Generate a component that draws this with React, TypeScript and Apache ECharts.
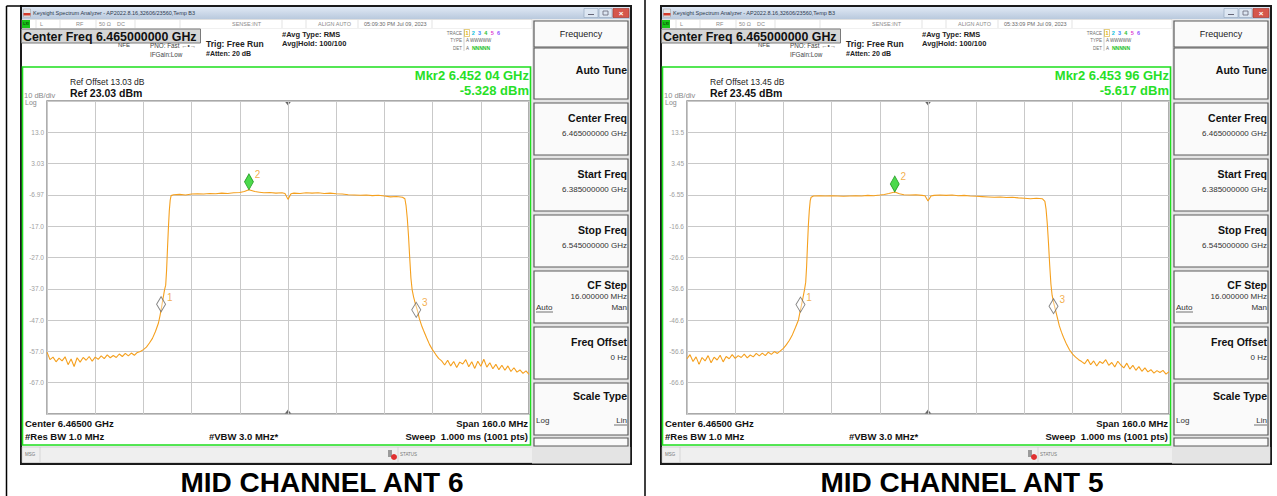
import React, { useEffect, useRef } from 'react';
import * as echarts from 'echarts';

const FONT = '"Liberation Sans", Arial, Helvetica, sans-serif';

// frequency offset from centre (MHz), centre = 6.465 GHz, span 160 MHz
const freqOffsetMHz = [
  -80, -79, -78, -77, -76, -75, -74, -73, -72, -71, -70, -69, -68, -67, -66, -65, -64, -63, -62, -61, -60, -59, -58, -57, -56, -55, -54, -53, -52, -51, -50, -49,
  -48, -47, -46, -45, -44, -43, -42.5, -42, -41.5, -41, -40.6, -40.3, -40, -39.7, -39.4, -39.1, -38.8,
  -38, -36, -34, -32, -30, -28, -26, -24, -22, -20, -18, -16, -14.5, -13, -11, -9.5, -8, -6, -4, -2, -1, 0, 1, 2, 4, 6, 8, 10, 12, 14, 16, 18, 20, 22, 24, 26, 28, 30, 32, 34, 36, 38,
  38.8, 39.2, 39.6, 40, 40.4, 40.8, 41.2, 41.7, 42.3, 43, 43.6, 44.3, 45, 46, 47, 48, 49, 50, 51,
  52, 53, 54, 55, 56, 57, 58, 59, 60, 61, 62, 63, 64, 65, 66, 67, 68, 69, 70, 71, 72, 73, 74, 75, 76, 77, 78, 79, 80,
];

// trace levels (dBm), ANT 6
const ant6Level = [
  -57.2, -59.6, -58.8, -60.3, -59.1, -60.0, -58.7, -61.2, -59.4, -61.8, -59.0, -60.4, -58.9, -59.8, -58.6, -60.1, -58.8, -59.5, -58.4, -59.3, -58.1, -59.0, -58.3, -58.9, -57.8, -58.6, -57.6, -58.4, -57.5, -58.2, -57.3, -57.0,
  -56.4, -55.6, -54.3, -52.8, -50.6, -47.9, -45.6, -43.0, -40.2, -37.4, -35.8, -31.0, -24.0, -17.5, -12.0, -8.6, -7.2,
  -6.9, -6.8, -7.0, -6.7, -6.6, -6.7, -6.5, -6.6, -6.4, -6.5, -6.3, -6.2, -5.9, -5.35, -5.9, -6.1, -6.3, -6.2, -6.4, -6.3, -6.5, -8.4, -6.6, -6.4, -6.5, -6.3, -6.4, -6.3, -6.5, -6.4, -6.6, -6.7, -6.9, -7.0, -7.1, -7.0, -7.2, -7.1, -7.3, -7.6, -7.5, -7.7,
  -8.2, -10.5, -14.5, -20.0, -27.0, -33.5, -37.2, -39.6, -41.8, -44.0, -46.5, -48.6, -50.3, -52.6, -54.8, -56.5, -57.9, -59.2, -60.0,
  -61.3, -59.8, -61.6, -60.2, -62.1, -60.4, -61.0, -59.6, -61.9, -60.3, -62.4, -60.1, -61.7, -59.5, -62.0, -60.6, -62.5, -61.1, -62.8, -61.4, -63.0, -61.6, -63.4, -62.2, -63.6, -62.9, -64.0, -63.2, -64.3,
];

// trace levels (dBm), ANT 5
const ant5Level = [
  -58.9, -57.6, -59.8, -58.3, -60.7, -58.5, -59.6, -57.9, -60.2, -58.4, -59.3, -57.8, -59.9, -58.2, -58.9, -57.6, -58.8, -57.9, -58.5, -57.4, -58.6, -57.7, -58.3, -57.2, -58.0, -57.1, -57.9, -56.8, -57.5, -56.6, -57.2, -56.4,
  -55.6, -54.4, -53.0, -51.2, -48.9, -46.5, -44.0, -41.8, -39.4, -36.9, -34.5, -29.5, -22.5, -16.0, -11.5, -8.4, -7.3,
  -6.9, -6.8, -6.9, -6.8, -6.9, -7.0, -6.9, -6.8, -6.9, -6.7, -6.8, -6.6, -6.4, -6.1, -5.65, -6.2, -6.5, -6.6, -6.5, -6.7, -6.8, -8.5, -6.9, -6.7, -6.6, -6.7, -6.6, -6.8, -6.7, -6.9, -7.0, -7.1, -7.2, -7.3, -7.2, -7.4, -7.3, -7.5, -7.6, -7.8, -7.6, -7.8,
  -8.6, -11.2, -15.8, -22.0, -29.0, -35.0, -38.6, -41.0, -43.3, -46.0, -48.4, -50.4, -52.1, -54.3, -56.1, -57.4, -58.4, -59.2, -59.8,
  -60.5, -59.1, -60.8, -59.6, -61.2, -59.8, -60.4, -59.2, -61.0, -60.1, -61.5, -59.7, -60.9, -61.8, -60.3, -62.2, -61.0, -62.6, -61.4, -62.9, -61.8, -63.1, -62.4, -63.5, -62.7, -63.3, -62.6, -63.8, -63.0,
];

const ant6Ref = 23.03;
const ant5Ref = 23.45;
const ant6YTickLabels = ['13.0', '3.03', '-6.97', '-17.0', '-27.0', '-37.0', '-47.0', '-57.0', '-67.0'];
const ant5YTickLabels = ['13.5', '3.45', '-6.55', '-16.6', '-26.6', '-36.6', '-46.6', '-56.6', '-66.6'];

const markerIds = ['1', '2', '3'];
const ant6MarkerFreq = [-41.8, -12.96, 42.9];
const ant6MarkerLevel = [-41.9, -5.328, -43.7];
const ant5MarkerFreq = [-42.0, -11.04, 42.0];
const ant5MarkerLevel = [-41.6, -5.617, -42.1];

const captions = ['MID CHANNEL ANT 6', 'MID CHANNEL ANT 5'];
const timeStamps = ['05:09:30 PM Jul 09, 2023', '05:33:09 PM Jul 09, 2023'];
const refOffsetTexts = ['Ref Offset 13.03 dB', 'Ref Offset 13.45 dB'];
const refTexts = ['Ref 23.03 dBm', 'Ref 23.45 dBm'];
const mkrFreqTexts = ['Mkr2 6.452 04 GHz', 'Mkr2 6.453 96 GHz'];
const mkrLevelTexts = ['-5.328 dBm', '-5.617 dBm'];

const softKeys = [
  { label: 'Center Freq', value: '6.465000000 GHz' },
  { label: 'Start Freq', value: '6.385000000 GHz' },
  { label: 'Stop Freq', value: '6.545000000 GHz' },
  { label: 'CF Step', value: '16.000000 MHz' },
  { label: 'Freq Offset', value: '0 Hz' },
  { label: 'Scale Type', value: '' },
];

const TRACE = '#f5a01e';

function txt(x: number, y: number, text: string, size: number, fill = '#222', weight: any = 'normal', align = 'left', vAlign = 'middle'): any {
  return {
    type: 'text', x, y, silent: true,
    style: { text, fill, fontSize: size, fontWeight: weight, fontFamily: FONT, textAlign: align, textVerticalAlign: vAlign, align, verticalAlign: vAlign },
  };
}
function rect(x: number, y: number, w: number, h: number, fill: any, stroke?: string, lw = 1): any {
  return { type: 'rect', silent: true, shape: { x, y, width: w, height: h }, style: { fill, stroke: stroke || 'none', lineWidth: stroke ? lw : 0 } };
}
function ln(x1: number, y1: number, x2: number, y2: number, stroke: string, lw = 1): any {
  return { type: 'line', silent: true, shape: { x1, y1, x2, y2 }, style: { stroke, lineWidth: lw } };
}

function screenGraphics(i: number): any[] {
  const ox = i * 640;
  const e: any[] = [];
  // window frame
  e.push(rect(21 + ox, 6, 610, 458, '#f2f2f2', '#1a1a1a', 2));
  // title bar
  e.push(rect(22 + ox, 7, 608, 12, new echarts.graphic.LinearGradient(0, 0, 0, 1, [
    { offset: 0, color: '#dfe8f4' }, { offset: 1, color: '#b9c9dd' },
  ])));
  e.push(rect(23.5 + ox, 9, 7, 8, '#e6e6e6', '#999', 0.5));
  e.push(rect(23.5 + ox, 13, 7, 2.5, '#d23a2a'));
  e.push(txt(33 + ox, 13, 'Keysight Spectrum Analyzer - AP2022.8.16,32606/23560,Temp B3', 5.5, '#2d3a4f'));
  e.push(rect(584 + ox, 8.5, 14, 9, '#dce6f2', '#8fa2bb', 0.6));
  e.push(rect(599 + ox, 8.5, 13, 9, '#dce6f2', '#8fa2bb', 0.6));
  e.push(rect(613 + ox, 8.5, 16, 9, '#d5564b', '#9e2f27', 0.6));
  e.push(ln(588 + ox, 14.5, 594 + ox, 14.5, '#667', 1));
  e.push(rect(603 + ox, 11, 5, 4, 'none', '#667', 0.8));
  e.push(txt(621 + ox, 13, '×', 8, '#fff', 'bold', 'center'));
  // status row
  e.push(rect(22 + ox, 19.5, 510, 9, '#ffffff', '#c6c6c6', 0.5));
  e.push(rect(22 + ox, 20, 8, 8, '#17c517'));
  e.push(txt(26 + ox, 24, 'LXI', 3.6, '#064306', 'bold', 'center'));
  [36, 60, 96, 135, 180, 282, 306, 358, 432].forEach((x) => e.push(ln(x + ox, 20, x + ox, 28, '#d0d0d0', 0.6)));
  e.push(txt(40 + ox, 24, 'L', 5.5, '#8a8a8a'));
  e.push(txt(76 + ox, 24, 'RF', 5.5, '#8a8a8a'));
  e.push(txt(99 + ox, 24, '50 Ω', 5.5, '#8a8a8a'));
  e.push(txt(117 + ox, 24, 'DC', 5.5, '#8a8a8a'));
  e.push(txt(232 + ox, 24, 'SENSE:INT', 5.5, '#8a8a8a'));
  e.push(txt(318 + ox, 24, 'ALIGN AUTO', 5.5, '#8a8a8a'));
  e.push(txt(364 + ox, 24, timeStamps[i], 5.5, '#6a6a6a'));
  // header area
  e.push(rect(22 + ox, 28.5, 510, 38, '#ffffff'));
  e.push(rect(21.5 + ox, 29, 179, 14, '#d6d6d6', '#7a7a7a', 1));
  e.push(txt(23 + ox, 36.5, 'Center Freq 6.465000000 GHz', 12.4, '#111', 'bold'));
  e.push(txt(118 + ox, 45, 'NFE', 6, '#444'));
  e.push(txt(150 + ox, 45, 'PNO: Fast ←•→', 6.3, '#444'));
  e.push(txt(150 + ox, 54, 'IFGain:Low', 6.3, '#444'));
  e.push(txt(206 + ox, 43.5, 'Trig: Free Run', 8.5, '#222', 'bold'));
  e.push(txt(206 + ox, 53.5, '#Atten: 20 dB', 7, '#222', 'bold'));
  e.push(txt(282 + ox, 34, '#Avg Type: RMS', 7.5, '#222', 'bold'));
  e.push(txt(282 + ox, 43.5, 'Avg|Hold: 100/100', 7.5, '#222', 'bold'));
  e.push(txt(462 + ox, 33, 'TRACE', 4.5, '#707070', 'normal', 'right'));
  e.push(txt(462 + ox, 40.5, 'TYPE', 4.5, '#707070', 'normal', 'right'));
  e.push(txt(462 + ox, 48, 'DET', 4.5, '#707070', 'normal', 'right'));
  e.push(ln(464 + ox, 29, 464 + ox, 51, '#b0b0b0', 0.6));
  const digitColors = ['#e0b000', '#10c0e0', '#3c8cff', '#30c030', '#e040d0', '#9050ff'];
  digitColors.forEach((c, k) => e.push(txt(467 + ox + k * 6.3, 33, String(k + 1), 5.5, c, 'bold', 'center')));
  e.push(rect(464.5 + ox, 29.5, 5, 7, 'none', '#d0a000', 0.5));
  e.push(txt(466 + ox, 40.5, 'A WWWWW', 4.5, '#606060'));
  e.push(txt(466 + ox, 48, 'A', 4.5, '#606060'));
  e.push(txt(472 + ox, 48, 'NNNNN', 5, '#20c020', 'bold'));
  // graph area
  e.push(rect(22.5 + ox, 67, 508, 378, '#ffffff', '#1ee01e', 1.6));
  e.push(txt(70 + ox, 81.5, refOffsetTexts[i], 8.5, '#222'));
  e.push(txt(70 + ox, 93, refTexts[i], 10.5, '#111', 'bold'));
  e.push(txt(24 + ox, 95.5, '10 dB/div', 7.5, '#8a8a8a'));
  e.push(txt(25 + ox, 102, 'Log', 7, '#8a8a8a'));
  e.push(txt(529 + ox, 75.5, mkrFreqTexts[i], 13, '#27e027', 'bold', 'right'));
  e.push(txt(529 + ox, 90, mkrLevelTexts[i], 13, '#27e027', 'bold', 'right'));
  e.push({ type: 'polygon', silent: true, shape: { points: [[284.5 + ox, 101], [291.5 + ox, 101], [288 + ox, 105.5]] }, style: { fill: '#666' } });
  e.push({ type: 'polygon', silent: true, shape: { points: [[284.5 + ox, 414], [291.5 + ox, 414], [288 + ox, 409.5]] }, style: { fill: '#666' } });
  e.push(rect(47 + ox, 101, 482, 313, 'none', '#8d8d8d', 1.4));
  e.push(txt(25 + ox, 423, 'Center 6.46500 GHz', 9.5, '#111', 'bold'));
  e.push(txt(528 + ox, 423, 'Span 160.0 MHz', 9.5, '#111', 'bold', 'right'));
  e.push(txt(25 + ox, 436, '#Res BW 1.0 MHz', 9.5, '#111', 'bold'));
  e.push(txt(209 + ox, 436, '#VBW 3.0 MHz*', 9.5, '#111', 'bold'));
  e.push(txt(528 + ox, 436, 'Sweep  1.000 ms (1001 pts)', 9.5, '#111', 'bold', 'right'));
  // message bar
  e.push(rect(22 + ox, 447, 608, 15.5, '#efefef', '#c0c0c0', 0.6));
  e.push(ln(40 + ox, 447, 40 + ox, 462, '#c8c8c8', 0.6));
  e.push(txt(25 + ox, 454.5, 'MSG', 4.5, '#777'));
  e.push(rect(388 + ox, 450, 4, 7, '#9a9a9a'));
  e.push({ type: 'circle', silent: true, shape: { cx: 394 + ox, cy: 457, r: 3 }, style: { fill: '#e03030' } });
  e.push(ln(398 + ox, 447, 398 + ox, 462, '#c8c8c8', 0.6));
  e.push(txt(400 + ox, 454.5, 'STATUS', 4.5, '#777'));
  // soft key panel
  e.push(rect(532 + ox, 19.5, 98, 444, '#e4e4e4'));
  e.push(rect(534 + ox, 21, 94, 26, '#fafafa', '#5a5a5a', 1.2));
  e.push(txt(581 + ox, 34, 'Frequency', 9, '#222', 'normal', 'center'));
  e.push(rect(534 + ox, 48, 94, 51, '#fafafa', '#5a5a5a', 1.2));
  e.push(txt(627 + ox, 70, 'Auto Tune', 10.5, '#111', 'bold', 'right'));
  softKeys.forEach((k, j) => {
    const top = 103 + j * 56;
    e.push(rect(534 + ox, top, 94, 52, '#fafafa', '#5a5a5a', 1.2));
    if (k.label === 'CF Step') {
      e.push(txt(627 + ox, top + 14, k.label, 10.5, '#111', 'bold', 'right'));
      e.push(txt(627 + ox, top + 25, k.value, 8, '#333', 'normal', 'right'));
      e.push(txt(536 + ox, top + 36, 'Auto', 8, '#333'));
      e.push(ln(536 + ox, top + 41, 553 + ox, top + 41, '#333', 0.7));
      e.push(txt(627 + ox, top + 36, 'Man', 8, '#333', 'normal', 'right'));
    } else if (k.label === 'Scale Type') {
      e.push(txt(627 + ox, top + 13, k.label, 10.5, '#111', 'bold', 'right'));
      e.push(txt(536 + ox, top + 37, 'Log', 8, '#333'));
      e.push(txt(627 + ox, top + 37, 'Lin', 8, '#333', 'normal', 'right'));
      e.push(ln(614 + ox, top + 42, 627 + ox, top + 42, '#333', 0.7));
    } else {
      e.push(txt(627 + ox, top + 15, k.label, 10.5, '#111', 'bold', 'right'));
      e.push(txt(627 + ox, top + 30, k.value, 8, '#333', 'normal', 'right'));
    }
  });
  e.push(rect(534 + ox, 438, 94, 8, '#fafafa', '#5a5a5a', 1.2));
  // caption
  e.push(txt(322 + ox, 482, captions[i], 28, '#000', 'bold', 'center'));
  return e;
}

function markerSeries(gridIdx: number, freqs: number[], levels: number[], ref: number): any {
  return {
    type: 'scatter', xAxisIndex: gridIdx, yAxisIndex: gridIdx, z: 5, silent: true,
    data: freqs.map((f, k) => {
      const main = markerIds[k] === '2';
      return {
        value: [f, levels[k] - ref],
        symbol: 'diamond',
        symbolSize: main ? [9, 16] : [9, 15],
        symbolOffset: main ? [0, -8] : [-1, 0],
        itemStyle: main
          ? { color: '#1fd01f', borderColor: '#0b8a0b', borderWidth: 0.8 }
          : { color: 'rgba(255,255,255,0.5)', borderColor: '#666', borderWidth: 1 },
        label: {
          show: true, formatter: markerIds[k], position: 'right', distance: 1, offset: [0, -7],
          color: '#f09a18', fontSize: 10, fontFamily: FONT,
        },
      };
    }),
  };
}

export default function App() {
  const ref = useRef<HTMLDivElement>(null);
  useEffect(() => {
    if (!ref.current) return;
    const chart = echarts.init(ref.current, null, { renderer: 'svg' });
    const refs = [ant6Ref, ant5Ref];
    const levels = [ant6Level, ant5Level];
    const tickLabels = [ant6YTickLabels, ant5YTickLabels];
    const option: any = {
      animation: false,
      backgroundColor: '#ffffff',
      grid: [
        { left: 47, top: 101, width: 482, height: 313 },
        { left: 687, top: 101, width: 482, height: 313 },
      ],
      xAxis: [0, 1].map((g) => ({
        type: 'value', gridIndex: g, min: -80, max: 80, interval: 16,
        axisLine: { show: false }, axisTick: { show: false }, axisLabel: { show: false },
        splitLine: { show: true, lineStyle: { color: '#c9c9c9', width: 1 } },
      })),
      yAxis: [0, 1].map((g) => ({
        type: 'value', gridIndex: g, min: -100, max: 0, interval: 10,
        axisLine: { show: false }, axisTick: { show: false },
        axisLabel: {
          show: true, fontSize: 6.5, color: '#a0a0a0', margin: 3, fontFamily: FONT,
          formatter: (v: number) => {
            const k = Math.round(-v / 10);
            return k >= 1 && k <= 9 ? tickLabels[g][k - 1] : '';
          },
        },
        splitLine: { show: true, lineStyle: { color: '#c9c9c9', width: 1 } },
      })),
      series: [
        ...[0, 1].map((g) => ({
          type: 'line', xAxisIndex: g, yAxisIndex: g, showSymbol: false, silent: true,
          lineStyle: { color: TRACE, width: 1.1 },
          data: freqOffsetMHz.map((f, k) => [f, levels[g][k] - refs[g]]),
        })),
        markerSeries(0, ant6MarkerFreq, ant6MarkerLevel, ant6Ref),
        markerSeries(1, ant5MarkerFreq, ant5MarkerLevel, ant5Ref),
      ],
      graphic: {
        elements: [
          ...screenGraphics(0),
          ...screenGraphics(1),
          ln(6.5, 6, 22, 6, '#000', 1.5),
          ln(6.5, 6, 6.5, 496, '#000', 1.5),
          ln(645, 0, 645, 496, '#000', 1.5),
        ],
      },
    };
    chart.setOption(option);
    return () => chart.dispose();
  }, []);
  return <div ref={ref} style={{ position: 'absolute', left: 0, top: 0, width: 1277, height: 496 }} />;
}
